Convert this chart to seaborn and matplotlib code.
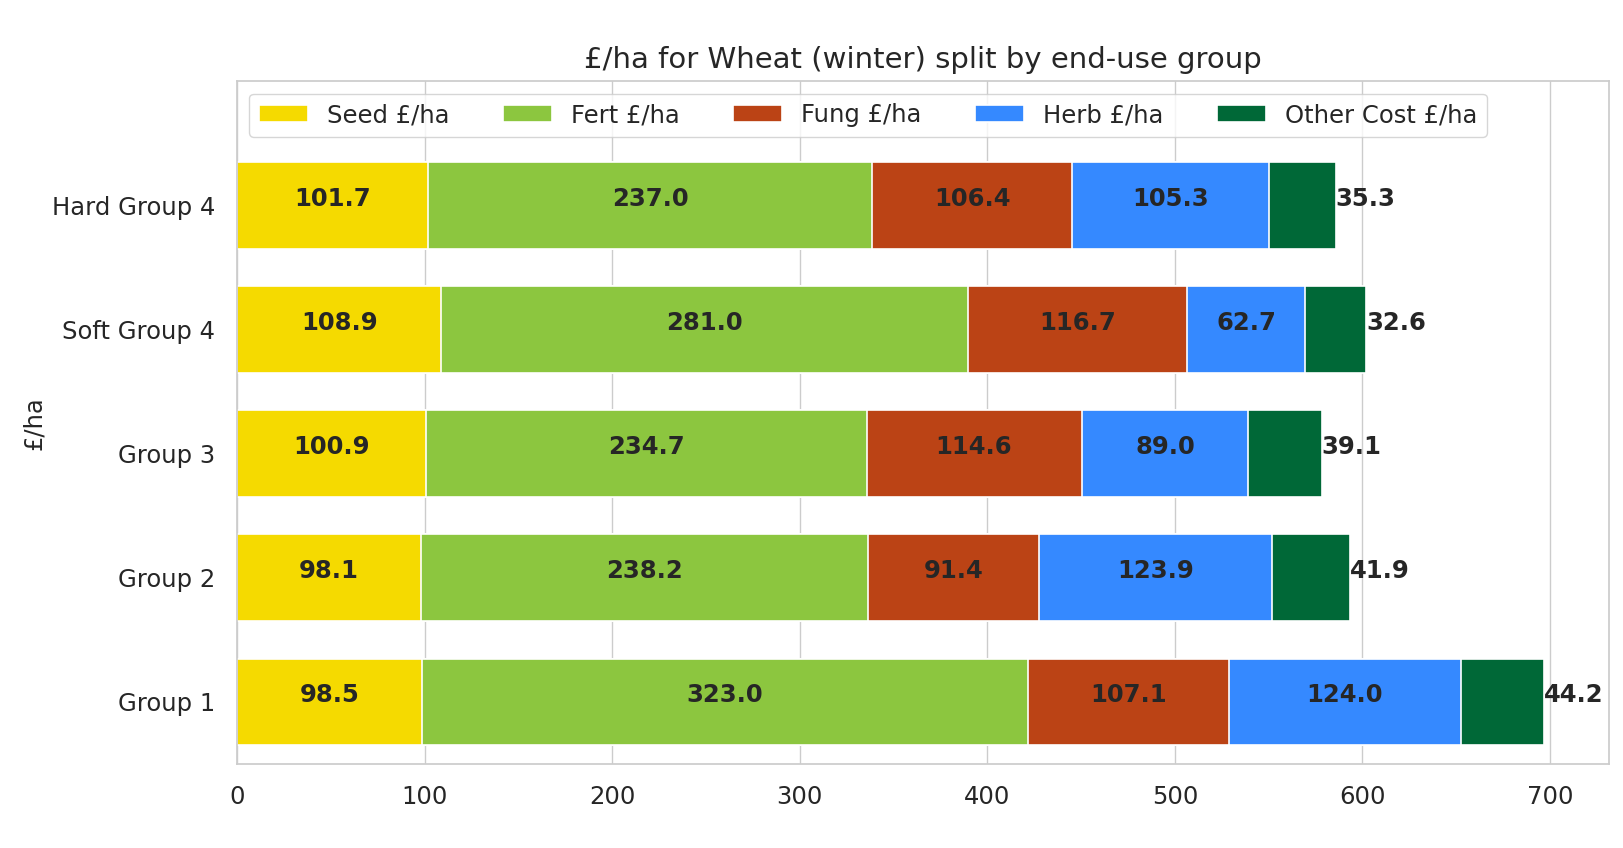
import matplotlib
matplotlib.use("Agg")
import matplotlib.pyplot as plt
import seaborn as sns
import numpy as np
import pandas as pd

# === DATA ===
groups = ['Hard Group 4', 'Soft Group 4', 'Group 3', 'Group 2', 'Group 1']
cost_names = ['Seed £/ha', 'Fert £/ha', 'Fung £/ha', 'Herb £/ha', 'Other Cost £/ha']
seed = [101.7, 108.9, 100.9, 98.1, 98.5]
fert = [237.0, 281.0, 234.7, 238.2, 323.0]
fung = [106.4, 116.7, 114.6, 91.4, 107.1]
herb = [105.3, 62.7, 89.0, 123.9, 124.0]
other = [35.3, 32.6, 39.1, 41.9, 44.2]
colors = ['#f5da00', '#8cc63f', '#bb4315', '#3589ff', '#006837']

df = pd.DataFrame({'group': groups})
for name, vals in zip(cost_names, [seed, fert, fung, herb, other]):
    df[name] = vals
cum = df[cost_names].cumsum(axis=1)

sns.set_theme(style="whitegrid")
plt.rcParams['font.family'] = ['DejaVu Sans']

fig, ax = plt.subplots(figsize=(16.24, 8.48), dpi=100)
fig.subplots_adjust(left=0.146, right=0.991, top=0.904, bottom=0.099)

# stacked bars: draw cumulative totals from the largest down
for name, color in reversed(list(zip(cost_names, colors))):
    sns.barplot(data=cum.assign(group=groups), x=name, y='group', order=groups,
                color=color, saturation=1, width=0.7, edgecolor='white',
                linewidth=1.2, label=name, ax=ax)

# value labels
for i, g in enumerate(groups):
    left = 0.0
    for j, name in enumerate(cost_names):
        w = df.loc[i, name]
        if j < len(cost_names) - 1:
            ax.text(left + w / 2, i, f'{w:.1f}', ha='center', va='baseline',
                    fontsize=17.5, fontweight='bold', color='#262626')
        else:
            ax.text(left + w, i, f'{w:.1f}', ha='left', va='baseline',
                    fontsize=17.5, fontweight='bold', color='#262626')
        left += w

ax.set_xlim(0, cum[cost_names[-1]].max() * 1.05)
ax.set_ylim(4.5, -1.0)
ax.grid(axis='y', visible=False)
ax.set_xlabel('')
ax.set_ylabel('£/ha', fontsize=17.5, labelpad=4)
ax.set_title('£/ha for Wheat (winter) split by end-use group', fontsize=21, pad=10)
ax.tick_params(axis='both', labelsize=17.5)
ax.tick_params(axis='y', pad=10)
ax.tick_params(axis='x', pad=9)

handles, labels = ax.get_legend_handles_labels()
order = [labels.index(n) for n in cost_names]
ax.legend([handles[k] for k in order], [labels[k] for k in order],
          loc='upper left', ncol=5, fontsize=17.5, handlelength=2.0,
          columnspacing=2.2, borderaxespad=0.5)

plt.savefig('out.png', dpi=100)
plt.close()
